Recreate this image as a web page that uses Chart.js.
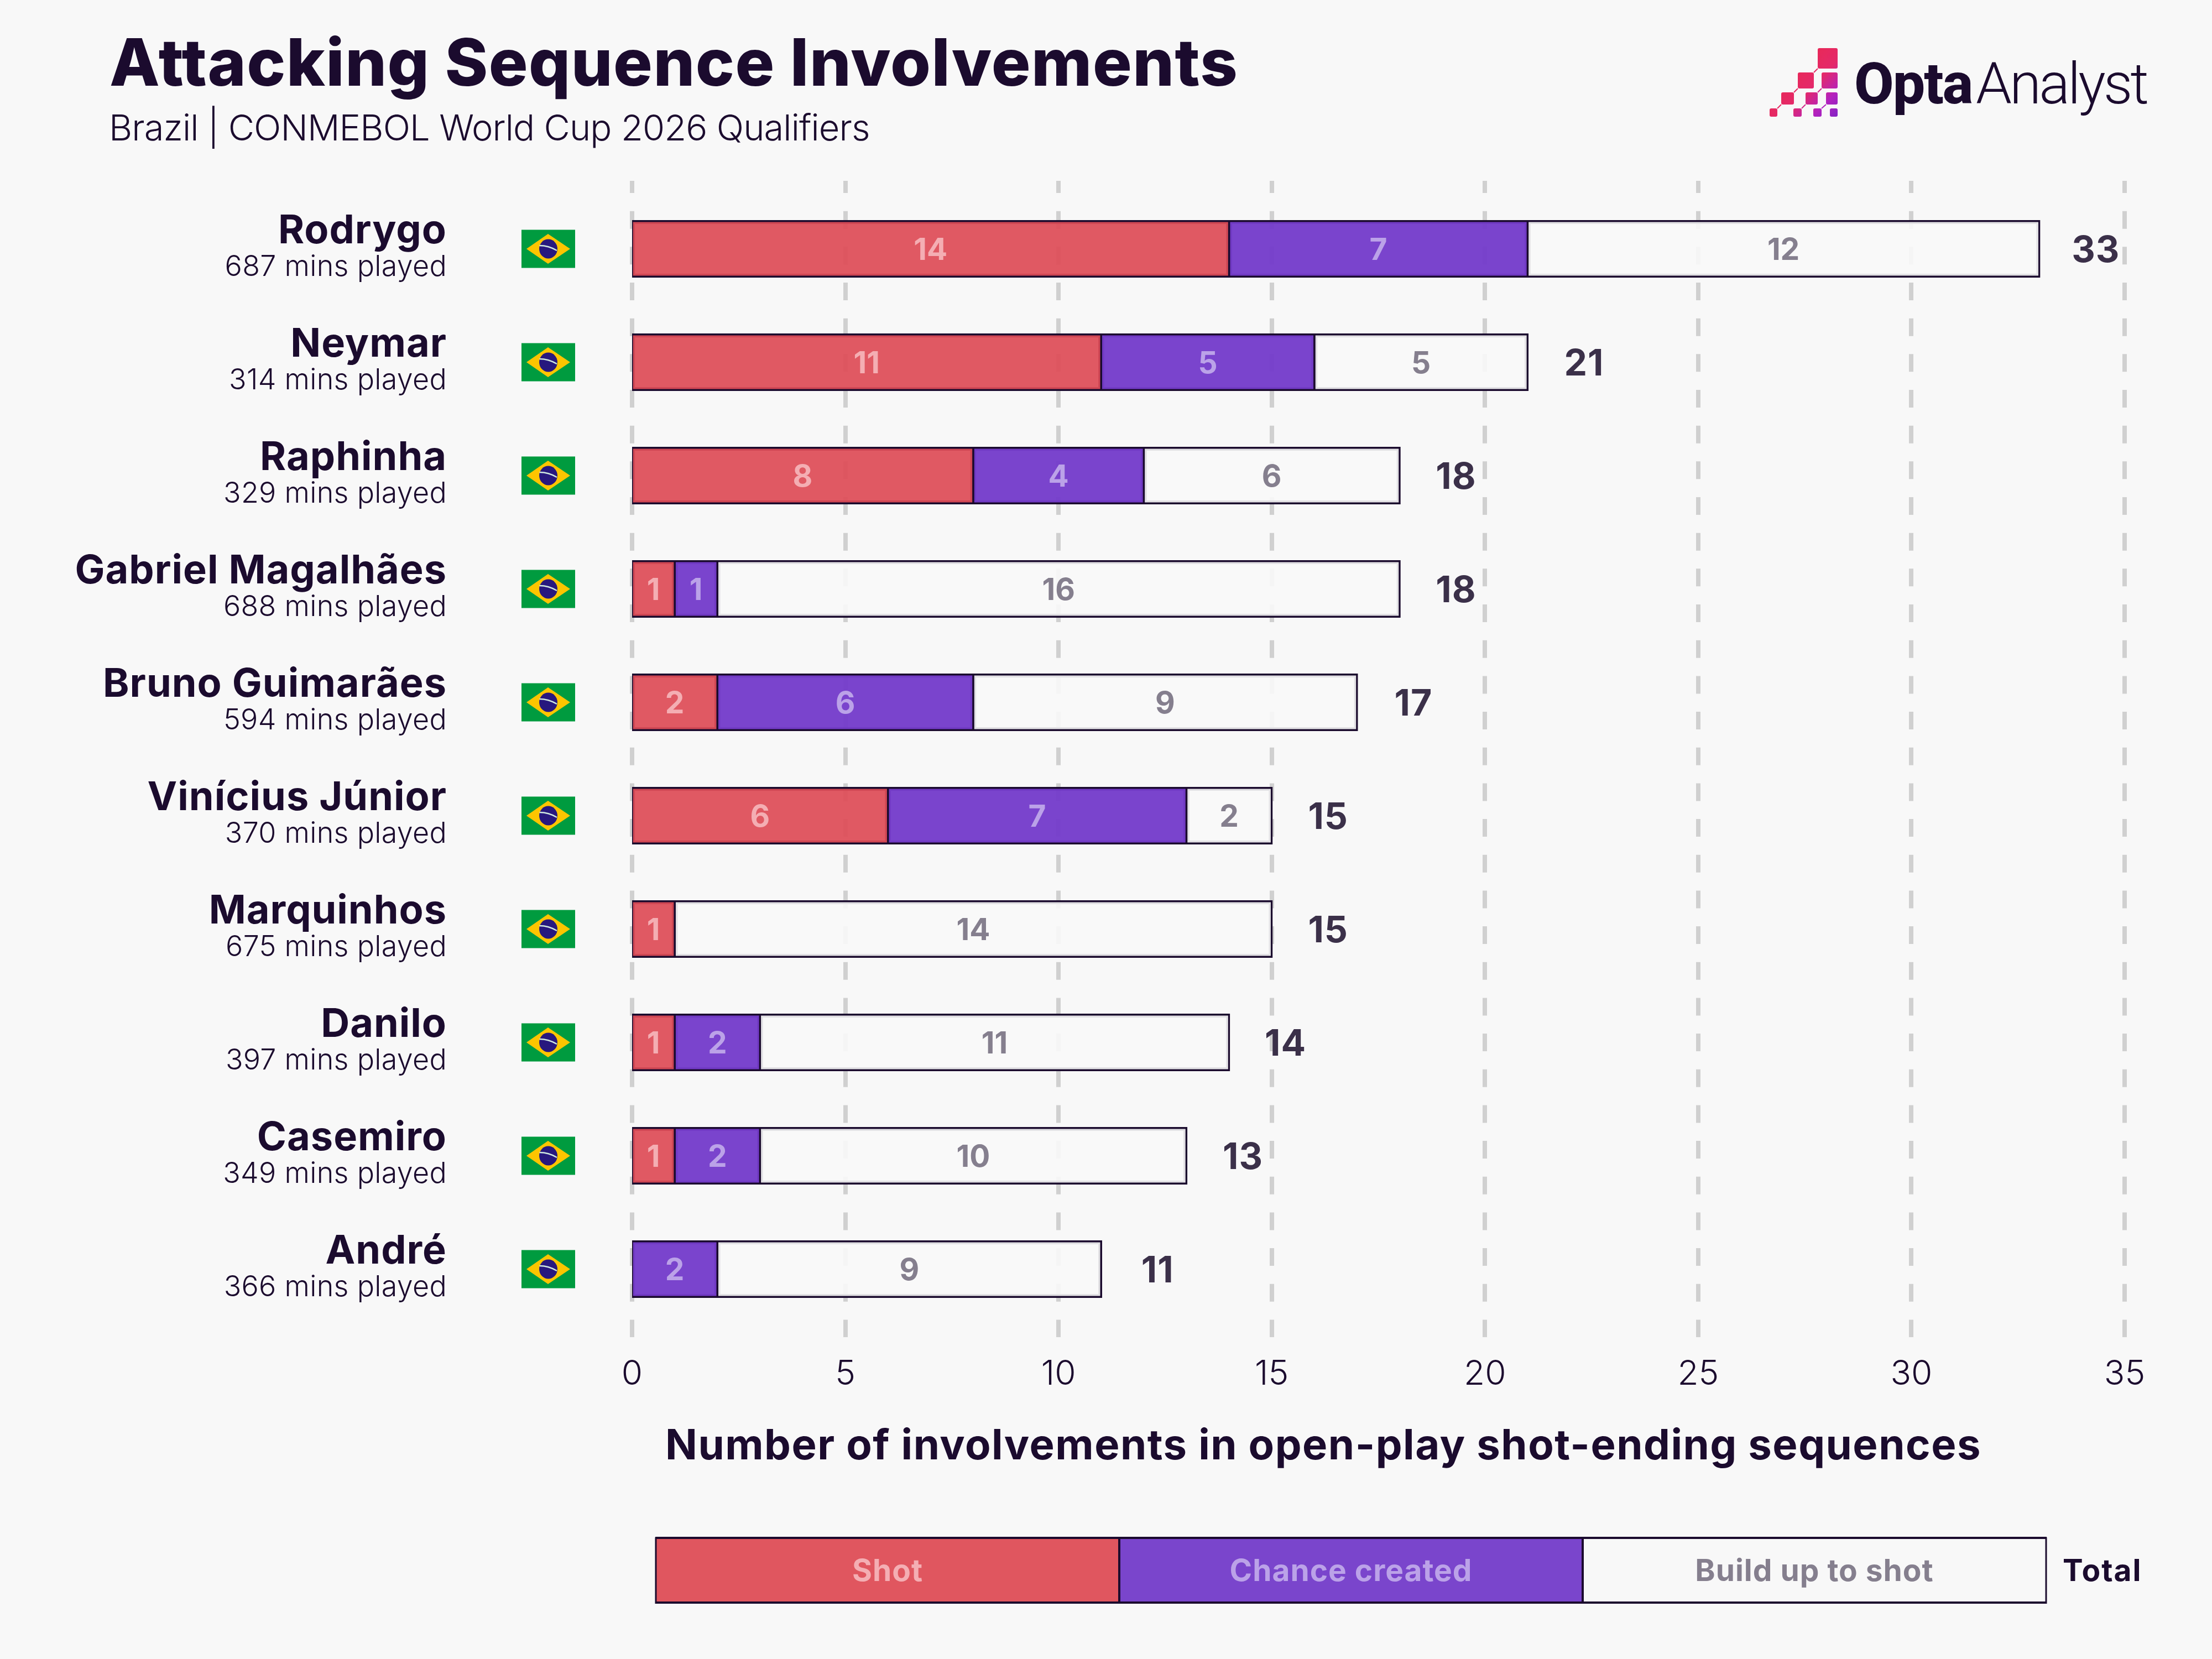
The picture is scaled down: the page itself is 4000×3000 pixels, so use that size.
<!DOCTYPE html>
<html>
<head>
<meta charset="utf-8">
<title>Attacking Sequence Involvements</title>
<script src="https://cdn.jsdelivr.net/npm/chart.js@4"></script>
<style>
    html, body { margin: 0; padding: 0; background: #F8F8F8; }
    canvas { display: block; }
</style>
</head>
<body>
<canvas id="involvements" width="4000" height="3000"></canvas>
<script>
    "use strict";

    var players = ["Rodrygo", "Neymar", "Raphinha", "Gabriel Magalhães", "Bruno Guimarães", "Vinícius Júnior", "Marquinhos", "Danilo", "Casemiro", "André"];
    var minsPlayed = [687, 314, 329, 688, 594, 370, 675, 397, 349, 366];
    var shots = [14, 11, 8, 1, 2, 6, 1, 1, 1, 0];
    var chances = [7, 5, 4, 1, 6, 7, 0, 2, 2, 2];
    var buildUp = [12, 5, 6, 16, 9, 2, 14, 11, 10, 9];
    var totals = [33, 21, 18, 18, 17, 15, 15, 14, 13, 11];
    var legendLabels = ["Shot", "Chance created", "Build up to shot"];

    var DARK = "#1B0B2E";
    var FONT = "Inter, sans-serif";
    var LOGO_FONT = "Roboto, sans-serif";
    var fills = ["rgba(222,76,87,0.93)", "rgba(117,60,203,0.96)", "rgba(248,248,248,0.9)"];
    var solidFills = ["#E0565F", "#7A45CC", "#F8F8F8"];
    var labelColors = ["#F4AEB3", "#BBA2E8", "#857F8E"];

    function text(ctx, str, x, y, font, color, align, spacing) {
        ctx.font = font;
        ctx.fillStyle = color;
        ctx.textAlign = align || "left";
        ctx.textBaseline = "alphabetic";
        ctx.letterSpacing = (spacing || 0) + "px";
        ctx.fillText(str, x, y);
        ctx.letterSpacing = "0px";
    }

    function drawFlag(ctx, cy) {
        ctx.fillStyle = "#009B3F";
        ctx.fillRect(943, cy - 34.5, 97, 69);
        ctx.fillStyle = "#FDC500";
        ctx.beginPath();
        ctx.moveTo(952, cy);
        ctx.lineTo(991, cy - 27);
        ctx.lineTo(1031, cy);
        ctx.lineTo(991, cy + 27);
        ctx.closePath();
        ctx.fill();
        ctx.fillStyle = "#27187E";
        ctx.beginPath();
        ctx.ellipse(991.5, cy, 16.5, 17.5, 0, 0, Math.PI * 2);
        ctx.fill();
        ctx.strokeStyle = "#CFE8E0";
        ctx.lineWidth = 2.5;
        ctx.beginPath();
        ctx.moveTo(975.5, cy - 6);
        ctx.quadraticCurveTo(992, cy - 6, 1007, cy + 3);
        ctx.stroke();
    }

    function drawLogo(ctx) {
        var squares = [
            [3287, 87, 36, 37], [3251, 131, 29, 29], [3294, 131, 29, 29],
            [3221, 167, 23, 22], [3265, 167, 22, 22], [3302, 167, 21, 22],
            [3200, 196, 14, 15], [3243, 196, 15, 15], [3279, 196, 15, 15], [3309, 196, 14, 15]
        ];
        var links = [
            [3287, 124, 3280, 131], [3251, 160, 3244, 167], [3221, 189, 3214, 196],
            [3294, 160, 3287, 167], [3265, 189, 3258, 196], [3302, 189, 3294, 196]
        ];
        var grad = ctx.createLinearGradient(3230, 120, 3323, 211);
        grad.addColorStop(0, "#EA2850");
        grad.addColorStop(0.45, "#E4296A");
        grad.addColorStop(0.75, "#B322BE");
        grad.addColorStop(1, "#8423C4");
        ctx.fillStyle = grad;
        ctx.strokeStyle = grad;
        ctx.lineWidth = 2;
        squares.forEach(function (s) {
            ctx.beginPath();
            ctx.roundRect(s[0], s[1], s[2], s[3], 3);
            ctx.fill();
        });
        links.forEach(function (l) {
            ctx.beginPath();
            ctx.moveTo(l[0], l[1]);
            ctx.lineTo(l[2], l[3]);
            ctx.stroke();
        });
        text(ctx, "Opta", 3353, 187, "800 104px " + LOGO_FONT, DARK, "left", -2);
        text(ctx, "Analyst", 3573, 187, "300 104px " + LOGO_FONT, DARK, "left", -4);
    }

    function drawLegend(ctx) {
        var edges = [1186, 2024, 2862, 3700];
        legendLabels.forEach(function (label, i) {
            ctx.fillStyle = solidFills[i];
            ctx.fillRect(edges[i], 2780, edges[i + 1] - edges[i], 120);
            text(ctx, label, (edges[i] + edges[i + 1]) / 2, 2859, "700 55px " + FONT, labelColors[i], "center", 1);
        });
        ctx.strokeStyle = DARK;
        edges.forEach(function (x, i) {
            ctx.lineWidth = (i === 0 || i === 3) ? 3 : 4;
            ctx.beginPath();
            ctx.moveTo(x, 2780);
            ctx.lineTo(x, 2900);
            ctx.stroke();
        });
        ctx.lineWidth = 4;
        [2781, 2898].forEach(function (y) {
            ctx.beginPath();
            ctx.moveTo(1185, y);
            ctx.lineTo(3701, y);
            ctx.stroke();
        });
        text(ctx, "Total", 3730, 2859, "700 55px " + FONT, DARK, "left", 2);
    }

    // titles, row labels, flags, bar values, logo and legend
    var annotations = {
        id: "annotations",
        afterDatasetsDraw: function (chart) {
            var ctx = chart.ctx;
            var xScale = chart.scales.x;
            var yScale = chart.scales.y;

            ctx.save();
            text(ctx, "Attacking Sequence Involvements", 198, 155, "800 118px " + FONT, DARK, "left", 1.4);
            text(ctx, "Brazil | CONMEBOL World Cup 2026 Qualifiers", 197, 254, "300 65px " + FONT, DARK, "left", -0.9);
            drawLogo(ctx);

            players.forEach(function (name, i) {
                var cy = yScale.getPixelForValue(i);
                text(ctx, name, 808, cy - 10, "700 72px " + FONT, DARK, "right", 1);
                text(ctx, minsPlayed[i] + " mins played", 808, cy + 49, "300 52px " + FONT, DARK, "right", 0.3);
                drawFlag(ctx, cy);
                text(ctx, String(totals[i]), xScale.getPixelForValue(totals[i]) + 102, cy + 24, "700 66px " + FONT, "#3B3049", "center", 1);
            });

            chart.data.datasets.forEach(function (dataset, d) {
                chart.getDatasetMeta(d).data.forEach(function (bar, i) {
                    if (dataset.data[i].x === null) {
                        return;
                    }
                    var c = bar.getCenterPoint();
                    text(ctx, String(dataset.data[i].x), c.x, c.y + 20, "700 55px " + FONT, labelColors[d], "center", 0);
                });
            });

            text(ctx, "Number of involvements in open-play shot-ending sequences", 1203, 2639, "700 76px " + FONT, DARK, "left", 1.5);
            drawLegend(ctx);
            ctx.restore();
        }
    };

    function toPoints(values) {
        return values.map(function (v, i) {
            return { x: v || null, y: i };
        });
    }

    // inflate by half the border so the outline sits centred on the value
    function makeDataset(label, values, series) {
        return {
            label: label,
            data: toPoints(values),
            backgroundColor: fills[series],
            borderColor: DARK,
            borderWidth: 3.5,
            borderSkipped: false,
            inflateAmount: 1.75,
            barThickness: 100.5
        };
    }

    new Chart("involvements", {
        type: "bar",
        plugins: [annotations],
        data: {
            datasets: [
                makeDataset(legendLabels[0], shots, 0),
                makeDataset(legendLabels[1], chances, 1),
                makeDataset(legendLabels[2], buildUp, 2)
            ]
        },
        options: {
            indexAxis: "y",
            responsive: false,
            animation: false,
            events: [],
            layout: {
                padding: { left: 1143, right: 158, top: 327, bottom: 472 }
            },
            plugins: {
                legend: false,
                tooltip: false,
                title: false
            },
            scales: {
                x: {
                    type: "linear",
                    stacked: true,
                    min: 0,
                    max: 35,
                    afterFit: function (scale) {
                        scale.height = 110;
                        // bars start on the zero line, chart.js would move them off it by half the grid width
                        scale.getLineWidthForValue = function () {
                            return 0;
                        };
                    },
                    grid: {
                        color: "#D0D0D0",
                        lineWidth: 8,
                        drawTicks: false
                    },
                    border: {
                        display: false,
                        dash: [32, 32.67],
                        dashOffset: 10
                    },
                    ticks: {
                        stepSize: 5,
                        padding: 30,
                        maxRotation: 0,
                        color: DARK,
                        font: { family: FONT, size: 62, weight: "300" }
                    }
                },
                y: {
                    type: "linear",
                    display: false,
                    offset: false,
                    stacked: true,
                    reverse: true,
                    min: -0.6,
                    max: 9.6
                }
            }
        }
    });
</script>
</body>
</html>
